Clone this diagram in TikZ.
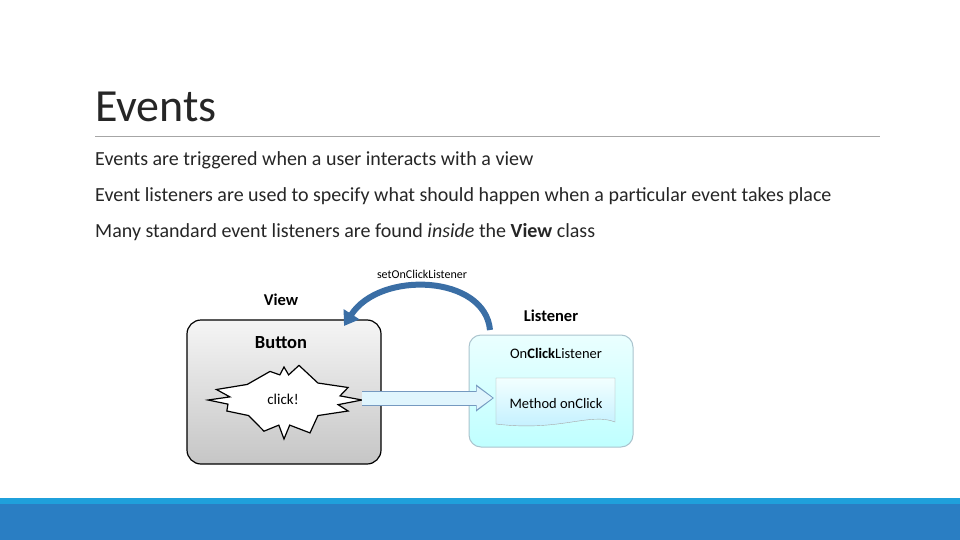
\documentclass[tikz,border=0pt]{standalone}
\usepackage{fontspec}
\setmainfont{Carlito}
\usetikzlibrary{arrows.meta}
\definecolor{barA}{HTML}{1FA0DB}
\definecolor{barB}{HTML}{2A7EC3}
\definecolor{txt}{HTML}{262626}
\definecolor{curv}{HTML}{3A6EA5}
\begin{document}
\begin{tikzpicture}[x=1pt,y=-1pt,
  bullet/.style={anchor=base west,font=\fontsize{20}{24}\selectfont,text=txt,inner sep=0},
  lbl/.style={font=\bfseries\fontsize{16.5}{19}\selectfont,inner sep=0}]
\useasboundingbox (0,0) rectangle (960,540);
\fill[white] (0,0) rectangle (960,540);
\node[anchor=base west,font=\fontsize{46}{50}\selectfont,text=txt,inner sep=0] (title) at (95,122) {Events};
\draw[gray!70,line width=0.8pt] (95,136) coordinate (l1) -- (880,136) coordinate (l2);
\node[bullet] (b1) at (95,165) {Events are triggered when a user interacts with a view};
\node[bullet] (b2) at (95,201) {Event listeners are used to specify what should happen when a particular event takes place};
\node[bullet] (b3) at (95,237) {Many standard event listeners are found \textit{inside} the \textbf{View} class};
\fill[barA] (0,498) rectangle (960,504);
\fill[barB] (0,504) rectangle (960,540);
% view box
\node[draw=black,line width=1.2pt,rounded corners=14pt,minimum width=194pt,minimum height=144pt,
  top color=gray!8,bottom color=gray!45] (view) at (284,392) {};
\node[draw=cyan!30!gray!60,line width=1pt,rounded corners=12pt,minimum width=164pt,minimum height=112pt,
  top color=cyan!8,bottom color=cyan!25] (lis) at (551,391) {};
\node[lbl] (vt) at (281,300) {View};
\node[lbl] (lt) at (551,316) {Listener};
\node[lbl,font=\bfseries\fontsize{18.5}{21}\selectfont] (bt) at (281,343) {Button};
\node[inner sep=0,font=\fontsize{14.5}{17}\selectfont] (ocl) at (556,353) {On\textbf{Click}Listener};
% method box
\shade[top color=cyan!5,bottom color=blue!25!cyan!25,draw=gray!70]
  (496,378) -- (615,378) -- (615,422) .. controls (590,412) and (560,432) .. (496,424) -- cycle;
\node[inner sep=0,font=\fontsize{14.5}{17}\selectfont] (mo) at (556,404) {Method onClick};
% star
\draw[fill=white,line width=1.2pt] (284,400)
  +(0:78 and 27) -- +(15:56 and 18) -- +(30:74 and 22) -- +(45:48 and 22) -- +(60:52 and 38)
  -- +(75:22 and 26) -- +(90:0 and 39) -- +(105:20 and 26) -- +(120:40 and 36) -- +(135:50 and 22)
  -- +(150:66 and 22) -- +(165:58 and 16) -- +(180:76 and 1) -- +(195:56 and 12) -- +(210:78 and 21)
  -- +(225:52 and 22) -- +(240:28 and 33) -- +(255:16 and 26) -- +(270:0 and 33) -- +(285:18 and 26)
  -- +(300:30 and 40) -- +(315:48 and 24) -- +(330:74 and 25) -- +(345:58 and 16) -- cycle;
\node[inner sep=0,font=\fontsize{15}{17}\selectfont] (ck) at (283,399) {click!};
% straight arrow
\coordinate (sa) at (362,398);
\coordinate (ea) at (494,398);
\draw[-{Triangle[length=18pt,width=26pt,fill=cyan!15]},line width=15pt,draw=curv!70] (sa) -- (ea);
\draw[-{Triangle[length=16pt,width=22pt]},line width=13pt,draw=cyan!12,shorten >=1.5pt] (sa) -- (ea);
% curved arrow
\coordinate (cs) at (490,330);
\coordinate (ce) at (344,326);
\draw[line width=6pt,draw=curv,-{Triangle[length=14pt,width=18pt]}]
  (cs) .. controls (485,275) and (380,270) .. (ce);
\node[inner sep=0,font=\fontsize{12}{14}\selectfont] (sl) at (422,274) {setOnClickListener};
\end{tikzpicture}
\end{document}
